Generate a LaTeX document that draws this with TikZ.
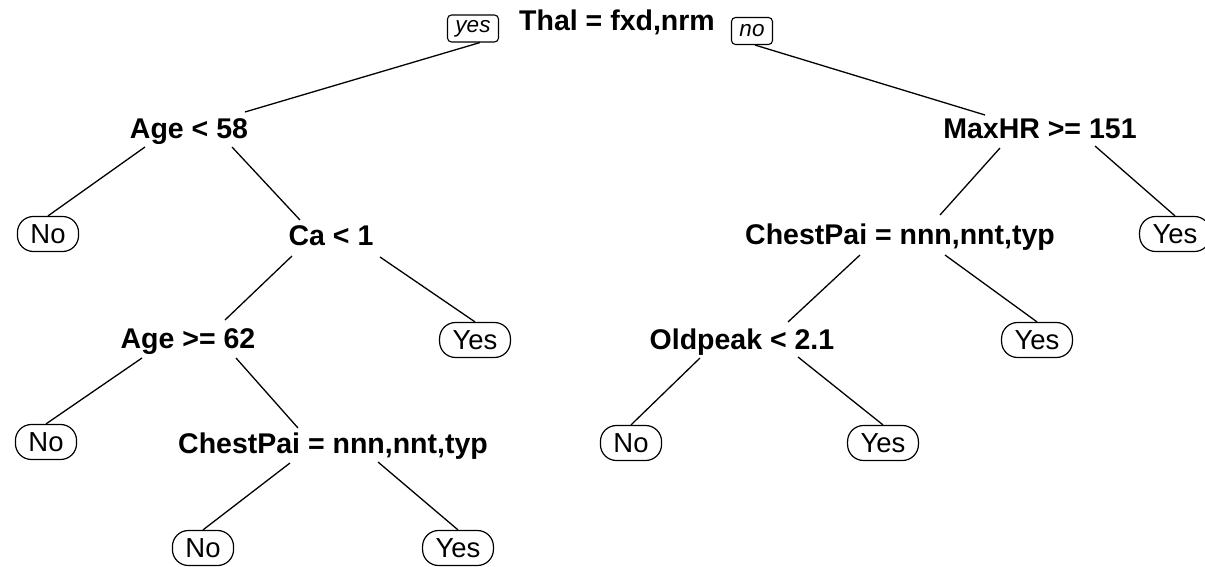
\documentclass[tikz,border=0pt]{standalone}
\usepackage{fontspec}
\setmainfont{Liberation Sans}
\begin{document}
\begin{tikzpicture}[x=1pt,y=-1pt,
  split/.style={anchor=base,inner sep=0pt,font=\fontsize{28.5}{30}\selectfont\bfseries},
  leaf/.style={draw,line width=1.2pt,rounded corners=16pt,inner xsep=13pt,inner ysep=0pt,
    minimum height=35pt,font=\fontsize{27.5}{29}\selectfont},
  tag/.style={draw,line width=1.1pt,rounded corners=4pt,inner xsep=8pt,inner ysep=0pt,
    minimum height=27pt,font=\fontsize{22.5}{24}\selectfont\itshape},
  edge/.style={line width=1.3pt}]
\useasboundingbox (0,0) rectangle (1205,567);
% decision nodes
\node[split] (root) at (617,31) {Thal = fxd,nrm};
\node[tag] (yes) at (473,28.5) {yes};
\node[tag] (no) at (752,31) {no};
\node[split] (a58) at (189,139) {Age < 58};
\node[split] (mhr) at (1040,139) {MaxHR >= 151};
\node[split] (ca) at (331,245) {Ca < 1};
\node[split] (cpr) at (900,244) {ChestPai = nnn,nnt,typ};
\node[split] (a62) at (188,348) {Age >= 62};
\node[split] (old) at (742,349) {Oldpeak < 2.1};
\node[split] (cpl) at (333,453) {ChestPai = nnn,nnt,typ};
% leaves
\node[leaf] (l1) at (48,234) {No};
\node[leaf] (l2) at (1175,234) {Yes};
\node[leaf] (l3) at (475,340) {Yes};
\node[leaf] (l4) at (1037,340) {Yes};
\node[leaf] (l5) at (46,442) {No};
\node[leaf] (l6) at (631,443) {No};
\node[leaf] (l7) at (883,443) {Yes};
\node[leaf] (l8) at (203,548) {No};
\node[leaf] (l9) at (458,548) {Yes};
% edges
\draw[edge] ([xshift=7pt]yes.south) -- ([shift={(56,-27)}]a58.base);
\draw[edge] ([xshift=3pt]no.south) -- ([shift={(-55,-24)}]mhr.base);
\draw[edge] ([shift={(-44,8)}]a58.base) -- (l1.north);
\draw[edge] ([shift={(43,8)}]a58.base) -- ([shift={(-31,-25)}]ca.base);
\draw[edge] ([shift={(-39,11)}]ca.base) -- ([shift={(37,-28)}]a62.base);
\draw[edge] ([shift={(49,12)}]ca.base) -- (l3.north);
\draw[edge] ([shift={(-46,10)}]a62.base) -- (l5.north);
\draw[edge] ([shift={(48,10)}]a62.base) -- ([shift={(-35,-25)}]cpl.base);
\draw[edge] ([shift={(-43,10)}]cpl.base) -- (l8.north);
\draw[edge] ([shift={(45,9)}]cpl.base) -- (l9.north);
\draw[edge] ([shift={(-40,9)}]mhr.base) -- ([shift={(40,-29)}]cpr.base);
\draw[edge] ([shift={(55,7)}]mhr.base) -- (l2.north);
\draw[edge] ([shift={(-40,11)}]cpr.base) -- ([shift={(46,-27)}]old.base);
\draw[edge] ([shift={(45,11)}]cpr.base) -- (l4.north);
\draw[edge] ([shift={(-42,9)}]old.base) -- (l6.north);
\draw[edge] ([shift={(56,8)}]old.base) -- (l7.north);
\end{tikzpicture}
\end{document}
